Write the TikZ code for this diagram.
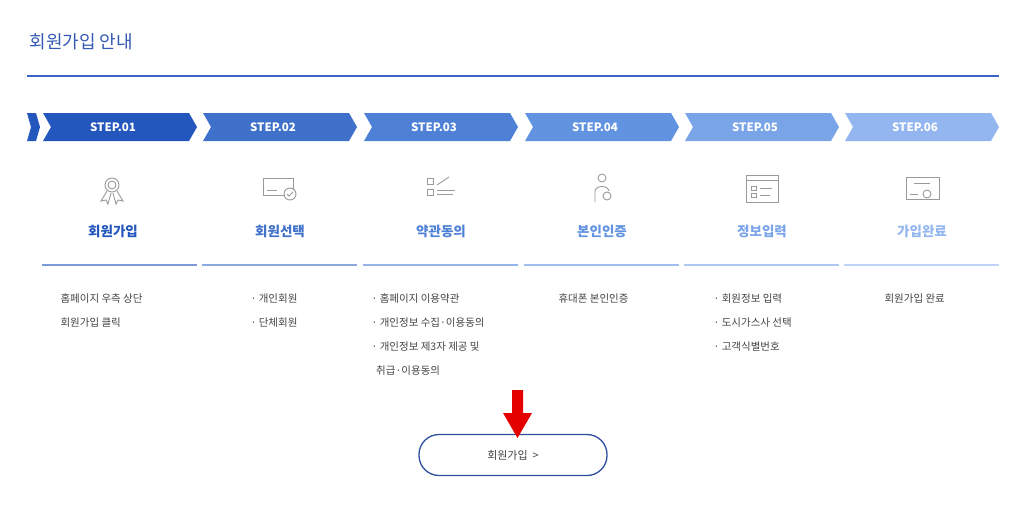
\documentclass[tikz,border=0pt]{standalone}
\usepackage{fontspec}
\setmainfont{Noto Sans CJK KR}
\usetikzlibrary{arrows.meta}
\definecolor{c1}{HTML}{2457BE}\definecolor{c2}{HTML}{3F70CA}\definecolor{c3}{HTML}{4E81D6}
\definecolor{c4}{HTML}{6293E0}\definecolor{c5}{HTML}{7AA4E8}\definecolor{c6}{HTML}{94B6F0}
\definecolor{ln}{HTML}{3A63C6}\definecolor{tx}{HTML}{444444}\definecolor{ic}{HTML}{9A9A9A}
\tikzset{steptxt/.style={text=white,font=\fontsize{11.5}{13}\selectfont\bfseries},
 ttl/.style={font=\fontsize{13.5}{16}\selectfont\bfseries},
 desc/.style={text=tx,font=\fontsize{10.5}{24}\selectfont,align=left,anchor=north west},
 icn/.style={draw=ic,line width=0.9pt}}
\begin{document}
\begin{tikzpicture}[x=1pt,y=-1pt]
\useasboundingbox[fill=white] (0,0) rectangle (1027,509);
\node[anchor=west,text=ln!90!black,font=\fontsize{18}{21}\selectfont] (title) at (26,42) {회원가입 안내};
\coordinate (l1) at (27,76); \coordinate (l2) at (999,76);
\draw[ln,line width=1.3pt] (l1) -- (l2);
\fill[c1] (27,113) -- (36,113) -- (40,127) -- (36,141) -- (27,141) -- (31,127) -- cycle;
\foreach \i/\x/\c/\t in {1/43/c1/01,2/203/c2/02,3/364/c3/03,4/525/c4/04,5/685/c5/05,6/845/c6/06}{
  \fill[\c] (\x,113) -- (\x+146,113) -- (\x+154,127) -- (\x+146,141) -- (\x,141) -- (\x+8,127) -- cycle;
  \node[steptxt] (s\i) at (\x+70,127) {STEP.\t};
  \draw[\c!60!white,line width=2.2pt] (\x-1,265) -- (\x+154,265);
}
\node[ttl,text=c1] (t1) at (113,231) {회원가입};
\node[ttl,text=c2] (t2) at (280,231) {회원선택};
\node[ttl,text=c3] (t3) at (441,231) {약관동의};
\node[ttl,text=c4] (t4) at (602,231) {본인인증};
\node[ttl,text=c5] (t5) at (762,231) {정보입력};
\node[ttl,text=c6] (t6) at (922,231) {가입완료};
% icons
\draw[icn] (112,185) circle (7); \draw[icn] (112,185) circle (4);
\draw[icn] (107,191) -- (101,201) -- (106,200) -- (108,204) -- (111,193);
\draw[icn] (117,191) -- (123,201) -- (118,200) -- (116,204) -- (113,193);
\draw[icn] (263,178) rectangle (293,195); \draw[icn] (267,190) -- (277,190);
\draw[icn,fill=white] (290,194) circle (6); \draw[icn] (287,194) -- (289,196) -- (293,192);
\draw[icn] (427,178) rectangle (433,184); \draw[icn] (427,189) rectangle (433,195);
\draw[icn] (437,185) -- (449,177); \draw[icn] (437,190) -- (455,190); \draw[icn] (437,194) -- (453,194);
\draw[icn] (602,178) circle (4); \draw[icn] (595,202) -- (595,191) .. controls (596,185) and (608,185) .. (609,191);
\draw[icn] (607,196) circle (4);
\draw[icn] (746,175) rectangle (778,202); \draw[icn] (746,180) -- (778,180);
\draw[icn] (751,186) rectangle (756,190); \draw[icn] (751,193) rectangle (756,197);
\draw[icn] (760,188) -- (772,188); \draw[icn] (760,195) -- (770,195);
\draw[icn] (906,177) rectangle (939,199); \draw[icn] (914,183) -- (930,183); \draw[icn] (910,194) -- (918,194);
\draw[icn,fill=white] (927,194) circle (4);
% descriptions
\node[desc] (d1) at (57,290) {홈페이지 우측 상단\\회원가입 클릭};
\node[desc] (d2) at (247,290) {· 개인회원\\· 단체회원};
\node[desc] (d3) at (368,290) {· 홈페이지 이용약관\\· 개인정보 수집·이용동의\\· 개인정보 제3자 제공 및\\\ \ 취급·이용동의};
\node[desc] (d4) at (555,290) {휴대폰 본인인증};
\node[desc] (d5) at (710,290) {· 회원정보 입력\\· 도시가스사 선택\\· 고객식별번호};
\node[desc] (d6) at (881,290) {회원가입 완료};
% button
\node[draw=ln!80!black,line width=1.3pt,rounded corners=20pt,minimum width=188pt,minimum height=41pt,font=\fontsize{11}{13}\selectfont,text=tx] (btn) at (513,455) {회원가입 \ \textgreater};
\fill[red!90!black] (512,390) rectangle (523,413) (503,413) -- (532,413) -- (517.5,438) -- cycle;
\end{tikzpicture}
\end{document}
